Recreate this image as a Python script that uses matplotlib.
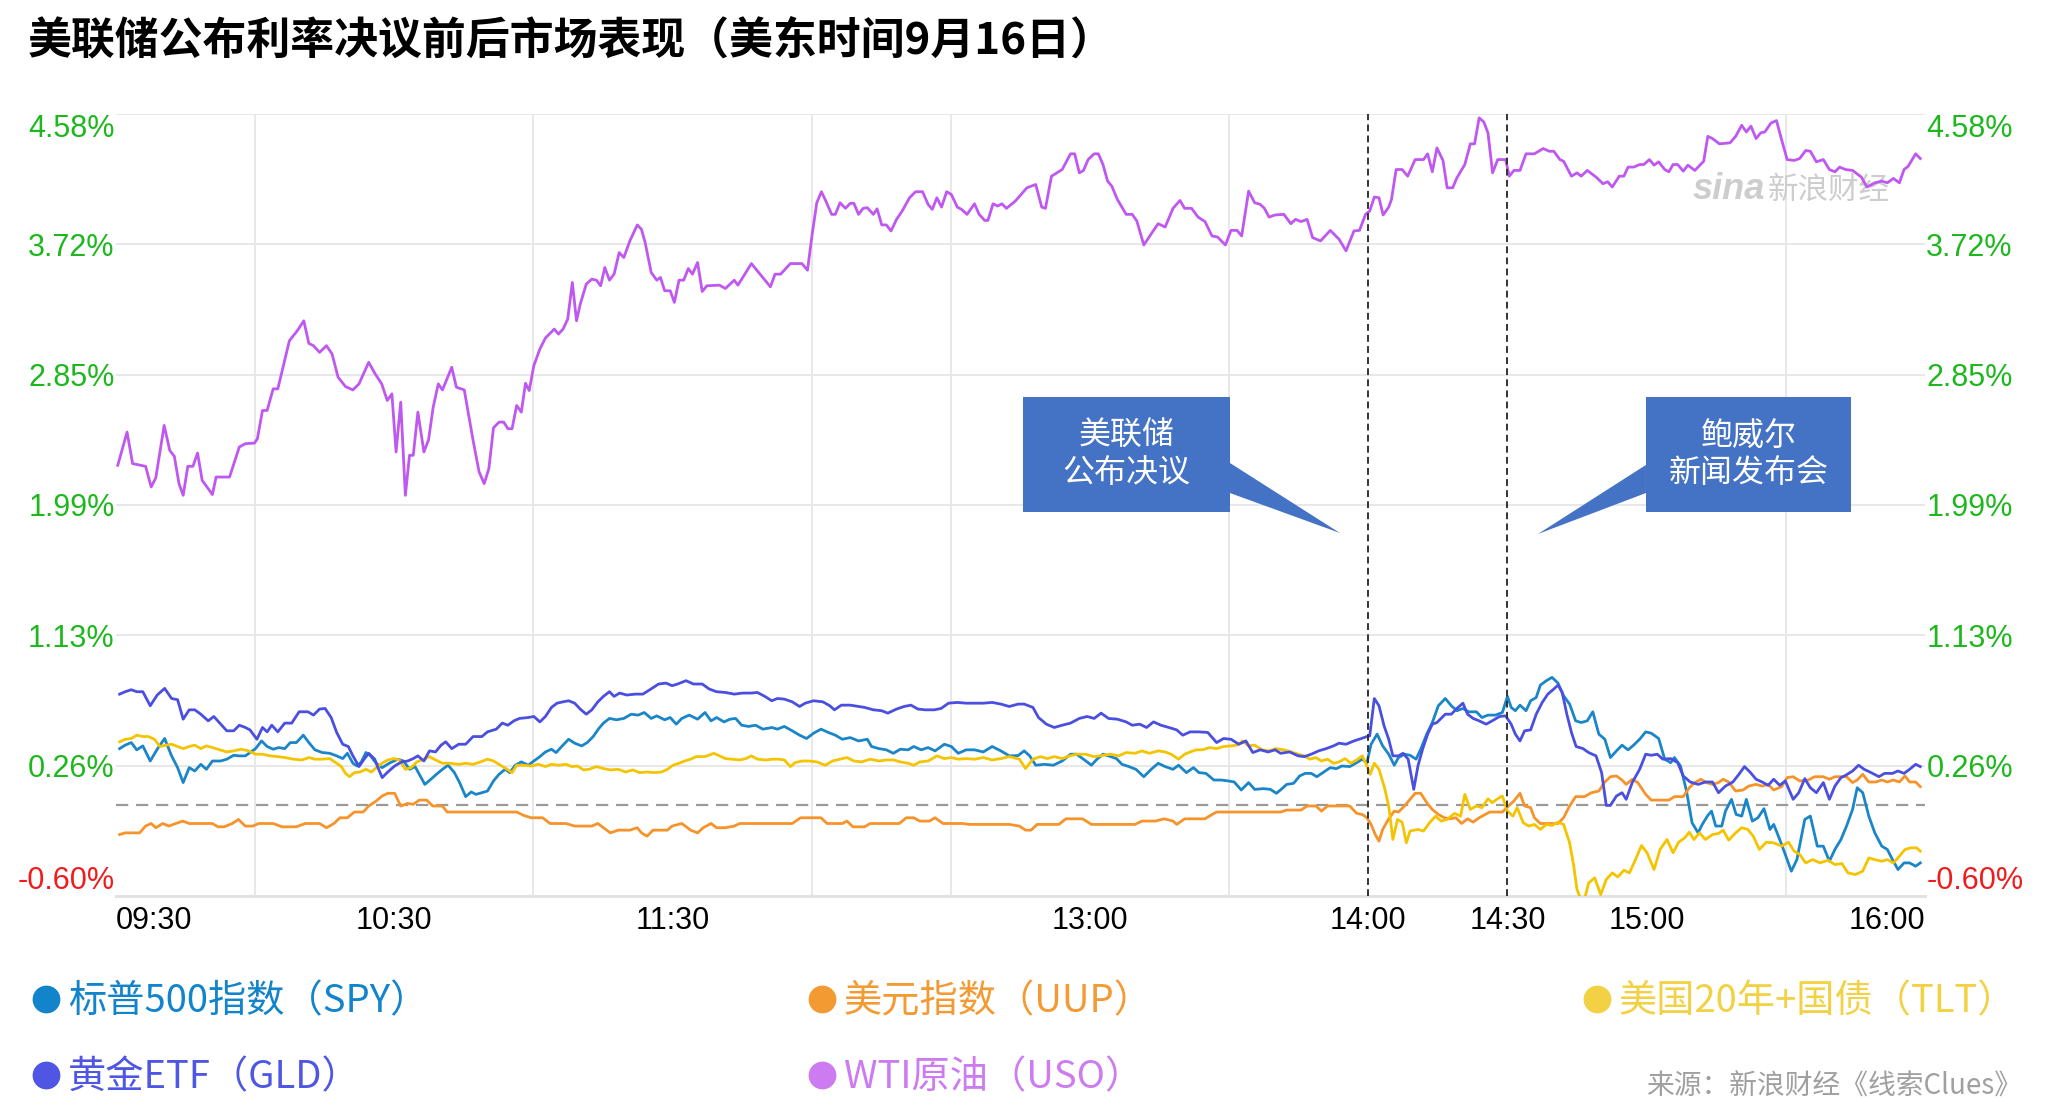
import matplotlib
matplotlib.use('Agg')
import matplotlib.pyplot as plt
from matplotlib.lines import Line2D
from matplotlib.patches import Polygon
import numpy as np

# ---------------- data (minutes after 09:30, % change) ----------------
SPY = [(0.8,0.376),(2.0,0.399),(3.3,0.416),(4.5,0.368),(5.8,0.394),(7.4,0.294),(8.9,0.372),(10.5,0.443),(12.0,0.328),(13.3,0.25),(14.5,0.151),(15.8,0.25),(17.0,0.228),(18.3,0.272),(19.5,0.239),(20.8,0.294),(22.6,0.294),(23.9,0.306),(25.4,0.332),(26.6,0.328),(27.9,0.328),(28.9,0.35),(30.1,0.376),(31.4,0.427),(32.6,0.39),(33.9,0.372),(35.1,0.383),(36.4,0.376),(37.6,0.416),(38.9,0.416),(40.4,0.465),(41.6,0.416),(42.9,0.368),(44.5,0.35),(46.1,0.345),(47.6,0.328),(48.9,0.31),(49.9,0.345),(51.1,0.279),(52.0,0.261),(52.9,0.288),(53.9,0.35),(54.9,0.328),(56.1,0.279),(57.4,0.25),(58.9,0.279),(60.8,0.306),(62.0,0.294),(63.3,0.239),(64.5,0.257),(65.4,0.206),(66.6,0.139),(67.9,0.173),(69.1,0.206),(70.4,0.239),(71.6,0.266),(72.9,0.221),(74.1,0.151),(75.4,0.058),(76.6,0.089),(77.6,0.073),(78.9,0.084),(80.1,0.095),(81.4,0.162),(82.6,0.206),(83.9,0.239),(84.9,0.217),(86.1,0.266),(87.4,0.288),(88.9,0.266),(90.1,0.294),(91.4,0.323),(92.6,0.354),(93.9,0.372),(94.9,0.35),(96.1,0.39),(97.6,0.438),(98.9,0.412),(100.4,0.394),(101.6,0.416),(102.9,0.456),(104.1,0.509),(105.1,0.545),(106.4,0.576),(107.9,0.567),(109.5,0.576),(111.1,0.604),(112.6,0.598),(113.9,0.615),(115.4,0.576),(116.6,0.593),(118.3,0.567),(119.5,0.582),(120.8,0.538),(122.0,0.576),(123.6,0.598),(125.4,0.571),(127.0,0.615),(128.3,0.56),(129.5,0.582),(131.1,0.553),(132.4,0.571),(133.6,0.576),(134.9,0.531),(136.4,0.523),(137.9,0.531),(139.5,0.505),(141.4,0.516),(142.6,0.505),(144.1,0.523),(145.8,0.494),(147.4,0.465),(148.9,0.443),(150.4,0.478),(152.0,0.505),(153.6,0.483),(155.1,0.465),(156.6,0.438),(158.3,0.449),(160.1,0.427),(162.0,0.438),(162.9,0.39),(164.5,0.376),(166.1,0.368),(167.6,0.345),(169.1,0.372),(170.8,0.368),(172.0,0.39),(173.6,0.368),(175.1,0.383),(176.6,0.361),(178.6,0.405),(180.1,0.39),(181.6,0.345),(183.3,0.368),(185.1,0.368),(187.0,0.354),(188.9,0.39),(190.8,0.361),(192.6,0.328),(194.5,0.33),(195.8,0.361),(197.0,0.328),(198.3,0.266),(200.2,0.272),(202.1,0.266),(204.0,0.294),(205.8,0.339),(207.1,0.339),(208.6,0.306),(210.3,0.266),(211.5,0.306),(212.8,0.339),(214.0,0.328),(215.7,0.31),(216.9,0.272),(218.4,0.257),(219.9,0.239),(221.6,0.19),(223.2,0.239),(224.7,0.279),(226.2,0.257),(227.9,0.239),(229.1,0.266),(230.8,0.217),(232.3,0.25),(233.5,0.217),(235.0,0.212),(236.7,0.168),(238.3,0.168),(239.8,0.162),(241.1,0.155),(242.6,0.102),(244.2,0.151),(245.5,0.106),(247.4,0.111),(248.9,0.106),(250.2,0.08),(251.4,0.111),(252.4,0.139),(253.9,0.146),(255.2,0.195),(256.4,0.212),(257.7,0.212),(258.9,0.19),(260.2,0.217),(261.8,0.25),(263.1,0.243),(264.3,0.261),(266.0,0.257),(267.5,0.283),(268.7,0.306),(269.7,0.283),(270.6,0.405),(271.9,0.472),(273.1,0.394),(274.4,0.339),(275.6,0.266),(276.5,0.317),(277.8,0.339),(279.0,0.332),(280.3,0.306),(281.3,0.372),(282.6,0.472),(283.8,0.549),(285.1,0.66),(286.6,0.708),(287.9,0.66),(289.1,0.627),(290.4,0.642),(291.6,0.62),(293.3,0.62),(294.5,0.582),(295.8,0.598),(297.4,0.598),(298.9,0.615),(300.0,0.722),(300.8,0.649),(301.7,0.627),(302.7,0.664),(304.0,0.627),(305.0,0.693),(306.2,0.715),(307.1,0.797),(308.4,0.826),(309.6,0.848),(310.9,0.81),(312.1,0.726),(313.4,0.671),(314.7,0.56),(315.9,0.549),(317.2,0.56),(318.4,0.62),(319.7,0.472),(321.0,0.438),(322.2,0.317),(323.5,0.361),(324.7,0.399),(326.0,0.368),(327.2,0.399),(328.5,0.438),(329.8,0.487),(331.0,0.478),(332.6,0.443),(333.9,0.306),(335.2,0.283),(336.0,0.317),(337.3,0.261),(338.6,0.095),(339.8,-0.115),(341.1,-0.182),(342.0,-0.126),(343.2,-0.066),(344.0,-0.038),(344.9,-0.137),(346.2,-0.137),(347.0,-0.038),(348.3,0.04),(349.3,-0.06),(350.5,-0.071),(351.5,0.04),(352.8,-0.104),(354.0,-0.082),(355.3,-0.022),(356.6,-0.159),(357.4,-0.126),(358.7,-0.226),(359.9,-0.325),(361.2,-0.436),(362.4,-0.359),(364.1,-0.093),(365.3,-0.071),(366.8,-0.27),(368.1,-0.27),(369.4,-0.37),(370.6,-0.292),(371.9,-0.226),(373.1,-0.137),(374.4,-0.027),(375.4,0.117),(376.6,0.084),(377.9,-0.071),(379.2,-0.182),(380.7,-0.27),(381.9,-0.292),(383.0,-0.359),(384.2,-0.425),(385.5,-0.381),(386.7,-0.381),(388.0,-0.403),(389.0,-0.381)]

UUP = [(0.8,-0.193),(2.0,-0.182),(5.1,-0.182),(6.4,-0.137),(7.6,-0.12),(8.6,-0.148),(10.1,-0.12),(11.4,-0.137),(12.9,-0.12),(14.4,-0.104),(15.8,-0.12),(20.8,-0.12),(22.0,-0.142),(23.3,-0.142),(25.1,-0.12),(26.4,-0.093),(27.9,-0.137),(29.5,-0.137),(30.8,-0.12),(33.9,-0.12),(35.8,-0.142),(38.9,-0.142),(40.8,-0.12),(43.9,-0.12),(45.4,-0.148),(47.0,-0.12),(48.3,-0.082),(49.9,-0.082),(51.4,-0.044),(53.3,-0.044),(54.5,-0.004),(56.1,0.029),(57.4,0.062),(58.6,0.08),(60.1,0.08),(61.4,-0.004),(62.9,0.013),(64.1,0.007),(65.4,0.035),(67.0,0.035),(68.3,-0.004),(70.4,-0.004),(71.4,-0.044),(86.4,-0.044),(87.9,-0.066),(89.5,-0.082),(92.0,-0.082),(93.6,-0.12),(97.0,-0.12),(98.9,-0.137),(102.6,-0.137),(103.9,-0.12),(105.1,-0.148),(106.6,-0.182),(108.3,-0.164),(110.8,-0.164),(112.4,-0.148),(113.3,-0.182),(114.5,-0.204),(115.8,-0.164),(118.9,-0.164),(119.9,-0.137),(122.0,-0.12),(123.9,-0.164),(125.4,-0.182),(126.6,-0.148),(128.3,-0.12),(129.5,-0.148),(131.4,-0.148),(133.3,-0.137),(134.5,-0.12),(145.8,-0.12),(147.6,-0.082),(152.0,-0.082),(153.3,-0.12),(156.6,-0.12),(157.6,-0.104),(158.9,-0.142),(161.4,-0.142),(162.6,-0.12),(168.9,-0.12),(170.4,-0.082),(172.0,-0.082),(173.3,-0.104),(175.4,-0.104),(176.6,-0.082),(178.3,-0.12),(182.6,-0.12),(183.9,-0.126),(192.6,-0.126),(194.8,-0.137),(196.1,-0.164),(197.3,-0.164),(198.6,-0.126),(203.3,-0.126),(204.8,-0.089),(208.4,-0.089),(210.3,-0.126),(219.7,-0.126),(221.2,-0.104),(224.1,-0.104),(226.0,-0.089),(227.9,-0.104),(228.7,-0.126),(230.4,-0.089),(234.8,-0.089),(236.0,-0.066),(237.3,-0.044),(251.1,-0.044),(252.4,-0.031),(255.5,-0.031),(256.8,-0.004),(258.7,-0.004),(259.9,-0.038),(261.2,-0.004),(266.0,-0.004),(267.5,-0.053),(268.7,-0.06),(269.7,-0.082),(270.6,-0.126),(271.5,-0.193),(272.3,-0.237),(273.1,-0.159),(274.4,-0.089),(275.6,-0.038),(276.5,-0.044),(277.8,-0.004),(279.0,0.04),(280.1,0.08),(281.3,0.08),(282.6,0.018),(283.8,-0.027),(285.1,-0.06),(286.4,-0.082),(287.6,-0.089),(288.9,-0.082),(290.1,-0.12),(291.4,-0.089),(292.6,-0.111),(293.9,-0.082),(295.2,-0.06),(296.2,-0.044),(298.9,-0.044),(300.2,-0.004),(301.4,0.029),(302.7,0.08),(303.7,-0.004),(305.0,-0.015),(305.8,-0.082),(307.1,-0.12),(310.9,-0.12),(312.1,-0.082),(313.4,-0.004),(314.7,0.058),(316.6,0.058),(318.1,0.084),(319.7,0.095),(321.0,0.155),(322.2,0.19),(323.5,0.195),(324.7,0.168),(325.6,0.139),(326.9,0.173),(328.1,0.151),(329.8,0.073),(331.0,0.035),(334.8,0.035),(336.0,0.058),(337.9,0.058),(339.2,0.117),(340.4,0.151),(341.7,0.173),(342.9,0.151),(344.2,0.139),(345.5,0.151),(346.5,0.173),(347.7,0.155),(349.2,0.095),(350.8,0.102),(352.0,0.128),(353.6,0.139),(354.9,0.128),(356.2,0.139),(357.4,0.102),(359.1,0.124),(360.3,0.184),(361.6,0.19),(363.0,0.162),(364.9,0.168),(366.2,0.19),(368.1,0.19),(369.4,0.173),(370.6,0.19),(373.1,0.19),(374.4,0.151),(375.4,0.168),(376.6,0.206),(377.9,0.155),(379.4,0.155),(380.7,0.168),(381.9,0.155),(383.2,0.168),(384.5,0.155),(385.7,0.195),(386.7,0.155),(388.0,0.155),(389.0,0.124)]

TLT = [(0.8,0.421),(2.0,0.438),(3.3,0.443),(4.5,0.465),(5.8,0.456),(7.0,0.456),(8.3,0.438),(9.5,0.39),(10.8,0.399),(12.0,0.405),(13.3,0.39),(14.5,0.376),(15.8,0.39),(17.0,0.399),(18.3,0.376),(19.5,0.394),(20.8,0.383),(22.0,0.372),(23.9,0.354),(25.4,0.361),(27.0,0.372),(28.6,0.361),(30.1,0.339),(31.6,0.339),(33.3,0.328),(34.9,0.323),(36.4,0.317),(38.3,0.306),(40.1,0.301),(41.6,0.317),(42.9,0.306),(44.5,0.306),(46.1,0.31),(47.4,0.283),(48.6,0.257),(49.5,0.212),(50.4,0.19),(51.4,0.217),(52.6,0.221),(53.9,0.239),(55.1,0.221),(56.4,0.257),(57.6,0.283),(58.6,0.301),(59.9,0.31),(61.1,0.301),(62.4,0.239),(63.6,0.25),(64.9,0.288),(66.4,0.306),(67.6,0.323),(68.9,0.301),(70.4,0.279),(72.0,0.279),(73.9,0.272),(75.4,0.279),(77.0,0.272),(78.6,0.288),(80.1,0.306),(81.4,0.294),(82.9,0.266),(84.1,0.244),(85.4,0.217),(86.4,0.266),(87.9,0.266),(89.5,0.261),(91.1,0.272),(92.6,0.257),(93.9,0.272),(95.4,0.266),(97.0,0.272),(98.3,0.257),(99.5,0.261),(100.8,0.235),(102.0,0.239),(103.6,0.257),(105.1,0.244),(106.6,0.235),(108.3,0.239),(109.9,0.221),(111.4,0.235),(112.9,0.217),(114.5,0.221),(116.1,0.217),(117.6,0.221),(118.9,0.239),(120.1,0.266),(121.4,0.279),(122.6,0.294),(123.9,0.306),(125.1,0.323),(127.0,0.323),(128.9,0.345),(130.1,0.328),(131.4,0.31),(132.9,0.306),(134.5,0.301),(135.8,0.31),(137.0,0.328),(138.3,0.306),(140.1,0.301),(141.6,0.306),(142.9,0.306),(144.1,0.301),(145.4,0.257),(146.4,0.283),(147.9,0.294),(149.5,0.294),(151.1,0.288),(152.9,0.266),(154.5,0.294),(156.1,0.306),(157.6,0.317),(159.1,0.294),(160.8,0.288),(162.6,0.306),(164.5,0.294),(166.1,0.301),(167.6,0.301),(169.1,0.288),(170.8,0.279),(172.0,0.266),(173.3,0.288),(175.1,0.294),(177.0,0.328),(178.6,0.31),(180.1,0.317),(181.6,0.306),(183.3,0.31),(185.1,0.306),(187.0,0.317),(188.9,0.301),(190.8,0.31),(192.6,0.323),(194.8,0.306),(196.1,0.244),(197.7,0.306),(199.3,0.323),(200.8,0.31),(202.3,0.323),(204.0,0.31),(205.6,0.328),(207.1,0.339),(209.0,0.339),(210.9,0.323),(212.8,0.332),(214.4,0.339),(216.2,0.328),(217.8,0.35),(219.7,0.345),(221.2,0.361),(222.8,0.345),(224.7,0.361),(226.2,0.354),(227.5,0.339),(229.1,0.306),(230.4,0.339),(231.6,0.354),(232.9,0.368),(234.2,0.368),(235.8,0.383),(237.3,0.376),(238.8,0.39),(240.4,0.394),(241.7,0.399),(242.9,0.427),(244.2,0.394),(245.5,0.399),(247.1,0.368),(248.6,0.361),(250.1,0.376),(251.8,0.368),(253.4,0.354),(254.9,0.339),(256.2,0.328),(257.4,0.306),(258.7,0.317),(259.9,0.294),(261.2,0.306),(262.5,0.279),(263.7,0.288),(265.0,0.31),(266.2,0.279),(267.5,0.301),(268.7,0.328),(269.7,0.261),(270.4,0.206),(271.3,0.279),(272.3,0.239),(273.5,0.117),(274.4,-0.004),(275.3,-0.226),(276.3,-0.093),(277.3,-0.111),(278.2,-0.248),(279.0,-0.17),(280.7,-0.159),(281.9,-0.17),(283.2,-0.115),(284.5,-0.071),(285.7,-0.104),(287.0,-0.093),(288.6,-0.053),(289.9,-0.071),(290.8,0.073),(292.0,-0.027),(293.3,-0.004),(294.5,-0.015),(295.8,0.044),(296.7,0.018),(297.9,0.044),(298.9,0.062),(300.0,-0.038),(301.2,-0.071),(302.1,-0.015),(303.4,-0.115),(304.6,-0.137),(305.8,-0.126),(307.1,-0.159),(308.4,-0.126),(309.6,-0.133),(310.9,-0.111),(312.1,-0.126),(313.4,-0.248),(314.3,-0.403),(315.0,-0.558),(316.3,-0.658),(317.5,-0.514),(318.8,-0.48),(320.1,-0.591),(321.3,-0.491),(322.6,-0.447),(323.8,-0.474),(325.1,-0.43),(326.3,-0.447),(327.6,-0.359),(328.9,-0.266),(330.1,-0.314),(331.6,-0.425),(332.9,-0.292),(334.4,-0.226),(335.7,-0.314),(336.9,-0.244),(338.2,-0.215),(339.2,-0.177),(340.2,-0.226),(341.4,-0.182),(342.7,-0.226),(344.2,-0.193),(345.5,-0.186),(346.5,-0.164),(347.7,-0.23),(349.2,-0.182),(350.5,-0.148),(351.8,-0.159),(353.0,-0.204),(354.3,-0.292),(355.8,-0.244),(357.4,-0.248),(359.1,-0.27),(360.6,-0.244),(361.8,-0.303),(363.0,-0.325),(364.3,-0.381),(365.8,-0.359),(367.4,-0.381),(369.1,-0.363),(370.6,-0.392),(372.1,-0.385),(373.4,-0.447),(375.0,-0.458),(376.6,-0.436),(377.9,-0.348),(379.2,-0.359),(380.7,-0.37),(381.9,-0.359),(383.2,-0.381),(384.5,-0.337),(385.7,-0.292),(387.0,-0.281),(388.2,-0.281),(389.0,-0.303)]

GLD = [(0.8,0.737),(2.0,0.753),(3.3,0.766),(4.5,0.753),(5.8,0.753),(7.4,0.66),(8.9,0.731),(10.5,0.775),(12.0,0.708),(13.3,0.70),(14.5,0.571),(15.8,0.633),(17.0,0.633),(18.3,0.604),(19.9,0.56),(21.1,0.589),(22.4,0.545),(23.9,0.494),(25.4,0.494),(26.6,0.531),(27.9,0.516),(28.9,0.50),(30.4,0.438),(31.6,0.516),(32.6,0.487),(33.6,0.531),(34.9,0.487),(36.4,0.545),(37.9,0.545),(39.5,0.62),(41.4,0.62),(42.6,0.598),(43.9,0.638),(45.1,0.642),(46.4,0.582),(47.6,0.483),(48.9,0.405),(50.1,0.39),(51.1,0.328),(52.4,0.257),(53.6,0.31),(54.5,0.345),(55.8,0.306),(56.4,0.257),(57.4,0.184),(58.6,0.221),(60.1,0.261),(61.6,0.288),(62.9,0.294),(64.1,0.31),(65.1,0.328),(66.4,0.294),(67.6,0.361),(68.9,0.354),(70.1,0.399),(71.1,0.421),(72.4,0.376),(73.9,0.405),(75.4,0.405),(77.0,0.456),(78.9,0.456),(80.1,0.487),(82.0,0.505),(83.3,0.545),(84.5,0.531),(85.8,0.56),(87.0,0.576),(88.9,0.582),(90.1,0.589),(91.4,0.553),(92.6,0.589),(93.9,0.649),(95.1,0.677),(96.4,0.686),(97.6,0.693),(98.9,0.677),(100.1,0.638),(101.4,0.604),(102.6,0.633),(103.9,0.686),(105.1,0.722),(106.4,0.753),(107.4,0.722),(108.6,0.744),(110.1,0.731),(112.0,0.737),(113.6,0.737),(115.1,0.766),(117.0,0.804),(118.6,0.81),(119.9,0.793),(121.1,0.804),(122.9,0.826),(124.5,0.804),(126.4,0.804),(127.9,0.771),(129.5,0.753),(131.4,0.748),(133.3,0.737),(135.1,0.744),(137.0,0.744),(138.3,0.748),(139.9,0.722),(141.4,0.693),(142.6,0.708),(144.1,0.704),(145.8,0.686),(147.4,0.655),(148.6,0.677),(150.4,0.693),(152.4,0.686),(153.9,0.66),(154.9,0.633),(156.4,0.664),(158.3,0.664),(160.1,0.655),(161.4,0.649),(163.3,0.633),(165.1,0.627),(166.4,0.611),(168.3,0.638),(169.9,0.655),(171.4,0.664),(172.9,0.638),(174.5,0.633),(176.4,0.633),(177.9,0.642),(179.5,0.677),(181.4,0.682),(183.3,0.677),(185.1,0.677),(187.0,0.677),(188.9,0.682),(190.8,0.671),(192.6,0.655),(194.5,0.671),(195.8,0.671),(197.7,0.649),(198.9,0.582),(200.6,0.538),(202.3,0.516),(204.0,0.531),(205.8,0.545),(207.7,0.576),(209.4,0.589),(210.9,0.576),(212.4,0.611),(214.0,0.576),(215.9,0.571),(217.8,0.553),(219.1,0.531),(220.7,0.538),(222.2,0.516),(223.7,0.553),(225.3,0.531),(227.0,0.516),(228.7,0.50),(230.0,0.465),(231.6,0.487),(233.5,0.487),(235.4,0.483),(237.3,0.416),(238.8,0.443),(240.4,0.438),(242.1,0.405),(243.6,0.427),(245.1,0.35),(246.7,0.368),(248.4,0.354),(249.9,0.368),(251.1,0.345),(253.0,0.354),(254.9,0.328),(256.2,0.323),(257.7,0.339),(259.3,0.361),(260.9,0.376),(262.5,0.394),(263.7,0.412),(265.2,0.405),(266.9,0.427),(268.5,0.443),(269.7,0.456),(270.3,0.46),(271.3,0.708),(272.3,0.66),(273.4,0.527),(274.4,0.438),(275.3,0.328),(276.5,0.328),(277.5,0.345),(278.6,0.306),(279.8,0.106),(280.7,0.261),(281.7,0.372),(282.8,0.472),(283.8,0.538),(284.8,0.549),(285.7,0.576),(286.6,0.604),(287.9,0.604),(289.1,0.642),(290.4,0.677),(291.4,0.604),(292.6,0.576),(293.9,0.56),(295.4,0.538),(296.7,0.56),(298.3,0.589),(299.6,0.593),(300.8,0.538),(301.7,0.472),(302.7,0.427),(303.7,0.494),(305.0,0.50),(306.2,0.604),(307.5,0.682),(308.7,0.737),(310.0,0.771),(310.9,0.797),(311.8,0.748),(312.8,0.604),(313.8,0.483),(314.8,0.39),(316.3,0.376),(317.5,0.35),(319.1,0.328),(320.3,0.217),(321.3,0.0),(322.2,0.0),(323.5,0.062),(324.7,0.084),(325.6,0.04),(326.9,0.151),(328.5,0.239),(329.8,0.339),(331.0,0.332),(332.3,0.339),(333.5,0.306),(335.2,0.31),(336.7,0.283),(337.9,0.195),(339.4,0.155),(341.1,0.139),(342.7,0.155),(344.2,0.155),(345.5,0.084),(347.0,0.128),(348.6,0.155),(349.9,0.206),(351.1,0.257),(352.4,0.217),(353.6,0.173),(354.9,0.155),(356.2,0.133),(357.4,0.173),(358.7,0.133),(359.9,0.162),(361.6,0.04),(362.8,0.084),(364.1,0.177),(365.3,0.117),(366.6,0.084),(368.1,0.151),(369.4,0.04),(370.6,0.128),(371.9,0.184),(372.9,0.199),(374.4,0.228),(375.7,0.266),(376.9,0.239),(378.4,0.217),(380.1,0.19),(381.3,0.212),(383.0,0.212),(384.2,0.228),(385.5,0.212),(386.7,0.239),(388.0,0.272),(389.0,0.257)]

USO = [(0.4,2.253),(2.4,2.473),(3.6,2.264),(6.4,2.246),(7.6,2.109),(8.6,2.17),(10.4,2.517),(11.6,2.352),(12.6,2.312),(13.6,2.131),(14.5,2.054),(15.5,2.246),(16.6,2.246),(17.6,2.334),(18.6,2.153),(20.8,2.059),(21.6,2.175),(24.5,2.175),(26.6,2.374),(27.9,2.396),(29.9,2.40),(30.5,2.429),(31.6,2.616),(32.6,2.616),(33.9,2.759),(34.9,2.759),(37.4,3.078),(39.1,3.144),(40.5,3.21),(41.6,3.06),(42.6,3.045),(43.9,3.001),(45.4,3.045),(46.6,2.99),(47.9,2.836),(49.5,2.774),(51.1,2.752),(52.4,2.792),(54.5,2.935),(55.8,2.863),(57.3,2.792),(58.5,2.682),(59.5,2.726),(60.4,2.341),(61.4,2.671),(62.4,2.054),(63.3,2.319),(64.1,2.319),(65.1,2.605),(66.4,2.341),(67.4,2.422),(68.4,2.638),(69.5,2.792),(70.4,2.752),(72.4,2.902),(73.4,2.77),(75.1,2.752),(77.0,2.418),(78.3,2.209),(79.4,2.131),(80.4,2.231),(81.4,2.501),(82.6,2.539),(83.6,2.539),(84.5,2.495),(85.4,2.495),(86.4,2.649),(87.4,2.605),(88.3,2.796),(89.1,2.748),(90.1,2.913),(91.4,3.023),(92.6,3.096),(94.5,3.155),(95.4,3.122),(96.4,3.155),(97.4,3.221),(98.4,3.464),(99.3,3.21),(100.1,3.32),(101.4,3.453),(102.6,3.486),(103.6,3.479),(104.5,3.442),(105.4,3.563),(106.4,3.479),(107.4,3.519),(108.5,3.662),(109.5,3.629),(110.8,3.739),(112.4,3.845),(113.3,3.816),(114.1,3.728),(115.4,3.53),(116.6,3.479),(117.4,3.497),(118.3,3.409),(119.5,3.409),(120.4,3.332),(121.4,3.479),(122.4,3.479),(123.4,3.556),(124.3,3.519),(125.4,3.596),(126.4,3.404),(127.4,3.442),(130.1,3.446),(131.4,3.424),(133.3,3.479),(134.1,3.446),(137.0,3.589),(141.1,3.435),(142.1,3.519),(143.3,3.519),(145.4,3.589),(147.9,3.589),(149.1,3.545),(150.1,3.783),(151.1,3.992),(152.1,4.065),(153.0,4.007),(154.3,3.915),(155.1,3.915),(156.1,3.992),(157.3,3.955),(158.3,3.988),(159.1,3.988),(160.1,3.915),(161.1,3.955),(162.0,3.959),(163.3,3.915),(164.1,3.952),(165.1,3.845),(166.1,3.845),(167.1,3.805),(168.3,3.882),(169.5,3.937),(171.1,4.025),(172.4,4.065),(173.9,4.065),(175.1,3.981),(176.0,3.948),(177.0,4.025),(178.0,3.963),(179.1,4.065),(180.1,4.047),(181.4,3.963),(182.3,3.948),(183.5,3.915),(185.1,3.985),(186.1,3.915),(187.3,3.875),(188.0,3.875),(189.1,3.985),(190.1,3.97),(191.0,3.985),(192.0,3.955),(193.9,4.003),(196.4,4.091),(198.3,4.113),(199.6,3.963),(200.4,3.955),(201.7,4.168),(204.0,4.212),(205.8,4.316),(206.7,4.316),(207.7,4.19),(208.6,4.206),(209.6,4.278),(210.9,4.316),(211.8,4.316),(212.8,4.245),(213.8,4.135),(214.7,4.102),(215.9,4.014),(217.8,3.915),(219.1,3.915),(220.1,3.871),(221.6,3.712),(223.5,3.8),(224.7,3.853),(226.2,3.831),(227.9,3.955),(229.4,4.007),(230.4,3.955),(231.9,3.955),(233.3,3.897),(234.8,3.867),(236.3,3.772),(237.5,3.765),(239.2,3.712),(240.4,3.809),(241.7,3.809),(242.7,3.772),(244.2,4.069),(245.5,3.992),(246.7,3.981),(247.6,3.955),(248.6,3.897),(249.9,3.911),(251.8,3.915),(253.3,3.853),(254.3,3.882),(255.5,3.867),(256.8,3.882),(258.0,3.761),(259.7,3.739),(261.8,3.809),(263.7,3.75),(265.2,3.673),(266.9,3.805),(268.1,3.809),(269.4,3.915),(270.3,3.937),(271.3,4.03),(272.3,4.025),(273.2,3.911),(274.4,3.963),(275.0,4.014),(276.0,4.212),(277.3,4.212),(278.5,4.168),(280.1,4.278),(281.9,4.278),(282.8,4.316),(283.8,4.197),(284.8,4.355),(286.1,4.272),(287.0,4.091),(288.2,4.091),(289.1,4.157),(290.8,4.245),(292.0,4.382),(292.9,4.382),(293.9,4.554),(294.9,4.527),(295.8,4.455),(296.8,4.19),(297.9,4.278),(299.6,4.278),(300.4,4.168),(301.4,4.206),(302.7,4.206),(304.0,4.316),(305.8,4.316),(307.7,4.351),(309.0,4.333),(310.0,4.333),(311.3,4.278),(312.1,4.267),(313.8,4.168),(315.0,4.19),(315.9,4.168),(317.2,4.206),(319.1,4.162),(320.6,4.118),(321.6,4.131),(322.6,4.096),(324.1,4.168),(325.1,4.168),(326.0,4.228),(327.2,4.228),(328.5,4.245),(329.4,4.245),(330.6,4.278),(331.6,4.241),(332.6,4.263),(333.9,4.212),(334.8,4.197),(335.7,4.245),(336.7,4.245),(337.9,4.201),(338.9,4.241),(340.4,4.206),(342.3,4.267),(343.2,4.432),(344.2,4.417),(345.7,4.382),(348.0,4.389),(349.2,4.432),(350.5,4.505),(351.5,4.461),(352.5,4.499),(353.6,4.417),(354.6,4.455),(355.5,4.461),(356.8,4.52),(358.0,4.536),(359.0,4.421),(360.3,4.278),(361.8,4.272),(363.0,4.285),(364.3,4.338),(365.3,4.333),(366.6,4.263),(368.1,4.278),(369.4,4.212),(370.6,4.197),(371.6,4.228),(372.9,4.212),(374.4,4.206),(376.3,4.162),(377.5,4.096),(379.2,4.124),(380.7,4.135),(381.9,4.124),(383.2,4.153),(384.5,4.124),(385.5,4.212),(386.4,4.234),(388.0,4.316),(389.0,4.285)]

series_names = ['标普500指数（SPY）', '美元指数（UUP）', '美国20年+国债（TLT）', '黄金ETF（GLD）', 'WTI原油（USO）']
series_data = [SPY, UUP, TLT, GLD, USO]

title_text = '美联储公布利率决议前后市场表现（美东时间9月16日）'
source_text = '来源：新浪财经《线索Clues》'
x_tick_minutes = [0, 60, 120, 210, 270, 300, 330, 390]
x_tick_labels = ['09:30', '10:30', '11:30', '13:00', '14:00', '14:30', '15:00', '16:00']
y_range = (-0.60, 4.58)
y_tick_labels = ['-0.60%', '0.26%', '1.13%', '1.99%', '2.85%', '3.72%', '4.58%']
event_minutes = [270, 300]
event_labels = ['美联储\n公布决议', '鲍威尔\n新闻发布会']

# ---------------- style ----------------
line_colors = ['#1A86C8', '#F7932B', '#F5C400', '#4A4FE0', '#BF58F0']
legend_colors = ['#1284CC', '#F39A33', '#F2D244', '#4F56E4', '#CC7CF0']
GREEN = '#1EB81E'
RED = '#F01C1C'
GRID = '#E8E8E8'
BOX = '#4472C4'
CJK = ['Noto Sans CJK SC', 'DejaVu Sans']
LAT = ['Liberation Sans', 'DejaVu Sans']

plt.rcParams['font.family'] = CJK

fig = plt.figure(figsize=(20.48, 11.13), dpi=100)
ax = fig.add_axes([0.0566, 0.195, 0.8833, 0.7026])
ax.set_xlim(0, 390)
ax.set_ylim(*y_range)

for data, col in zip(series_data, line_colors):
    t, v = zip(*data)
    ax.plot(t, v, color=col, lw=2.0, zorder=4, solid_joinstyle='round')

ax.axhline(0, color='#9A9A9A', lw=1.6, dashes=(5.5, 3.5), zorder=3)
for m in event_minutes:
    ax.axvline(m, color='#333333', lw=1.4, dashes=(3.5, 2.2), zorder=6)

yt = np.linspace(y_range[0], y_range[1], len(y_tick_labels))
ax.set_yticks(yt)
ax.set_yticklabels(y_tick_labels, family=LAT)
ax.set_xticks(x_tick_minutes)
ax.set_xticklabels(x_tick_labels, family=LAT)
ax.set_xticks(np.arange(30, 390, 30), minor=True)
ax.tick_params(axis='x', which='both', length=0, pad=7, labelsize=22, labelcolor='black')
ax.tick_params(axis='y', length=0, pad=1, labelsize=22)
ax.grid(axis='y', which='major', color=GRID, lw=1.4)
ax.grid(axis='x', which='minor', color=GRID, lw=1.4)
ax.grid(axis='x', which='major', visible=False)
ax.set_axisbelow(True)
for s in ['top', 'left', 'right']:
    ax.spines[s].set_visible(False)
ax.spines['bottom'].set_color('#E2E2E2')
ax.spines['bottom'].set_linewidth(2.2)

xl = ax.get_xticklabels()
xl[0].set_ha('left')
xl[-1].set_ha('right')

ax2 = ax.twinx()
ax2.set_ylim(*y_range)
ax2.set_yticks(yt)
ax2.set_yticklabels(y_tick_labels, family=LAT)
ax2.tick_params(axis='y', length=0, pad=1, labelsize=22)
for s in ['top', 'left', 'right', 'bottom']:
    ax2.spines[s].set_visible(False)

for a in (ax, ax2):
    labs = a.get_yticklabels()
    for i, lab in enumerate(labs):
        lab.set_color(RED if i == 0 else GREEN)
    labs[0].set_va('bottom')
    labs[-1].set_va('top')

# annotation callouts (axes fraction layout)
callouts = [
    dict(x0=0.5014, x1=0.6158, side='right', tip=(0.6766, 0.4642), base=(0.5537, 0.5153)),
    dict(x0=0.8458, x1=0.9591, side='left', tip=(0.7861, 0.4629), base=(0.5512, 0.5153)),
]
yb, ytop = 0.491, 0.6381
for c, lab in zip(callouts, event_labels):
    xe = c['x1'] if c['side'] == 'right' else c['x0']
    box = Polygon([(c['x0'], yb), (c['x0'], ytop), (c['x1'], ytop), (c['x1'], yb)],
                  closed=True, transform=ax.transAxes, facecolor=BOX, edgecolor='none', zorder=7)
    tri = Polygon([(xe, c['base'][0]), c['tip'], (xe, c['base'][1])],
                  closed=True, transform=ax.transAxes, facecolor=BOX, edgecolor='none', zorder=7)
    ax.add_patch(box)
    ax.add_patch(tri)
    ax.text((c['x0'] + c['x1']) / 2, 0.5646, lab, transform=ax.transAxes, ha='center', va='center',
            color='white', fontsize=23, linespacing=1.2, zorder=8, family=CJK)

# watermark
ax.text(0.8718, 0.9028, 'sina', transform=ax.transAxes, ha='left', va='center', fontsize=26,
        fontweight='bold', fontstyle='italic', color='#CDCDCD', family=LAT, zorder=1)
ax.text(0.9132, 0.9028, '新浪财经', transform=ax.transAxes, ha='left', va='center', fontsize=22,
        color='#CDCDCD', family=CJK, zorder=1)

# title
fig.text(0.0137, 0.9632, title_text, ha='left', va='center', fontsize=31.6, fontweight='bold',
         color='black', family=CJK)

# legend (manual, three columns)
leg_cols_circle = [0.0223, 0.4014, 0.7798]
leg_cols_text = [0.0332, 0.4120, 0.7905]
leg_rows = [0.1000, 0.0318]
for i, (name, col) in enumerate(zip(series_names, legend_colors)):
    r, cidx = divmod(i, 3)
    fig.add_artist(Line2D([leg_cols_circle[cidx]], [leg_rows[r] + 0.002], marker='o', markersize=19,
                          color=col, linestyle='none', transform=fig.transFigure))
    fig.text(leg_cols_text[cidx], leg_rows[r], name, ha='left', va='center', fontsize=27.5,
             color=col, family=CJK, fontweight='light')

fig.text(0.9873, 0.0234, source_text, ha='right', va='center', fontsize=20, color='#A0A0A0',
         family=CJK)

fig.savefig('out.png', dpi=100)
